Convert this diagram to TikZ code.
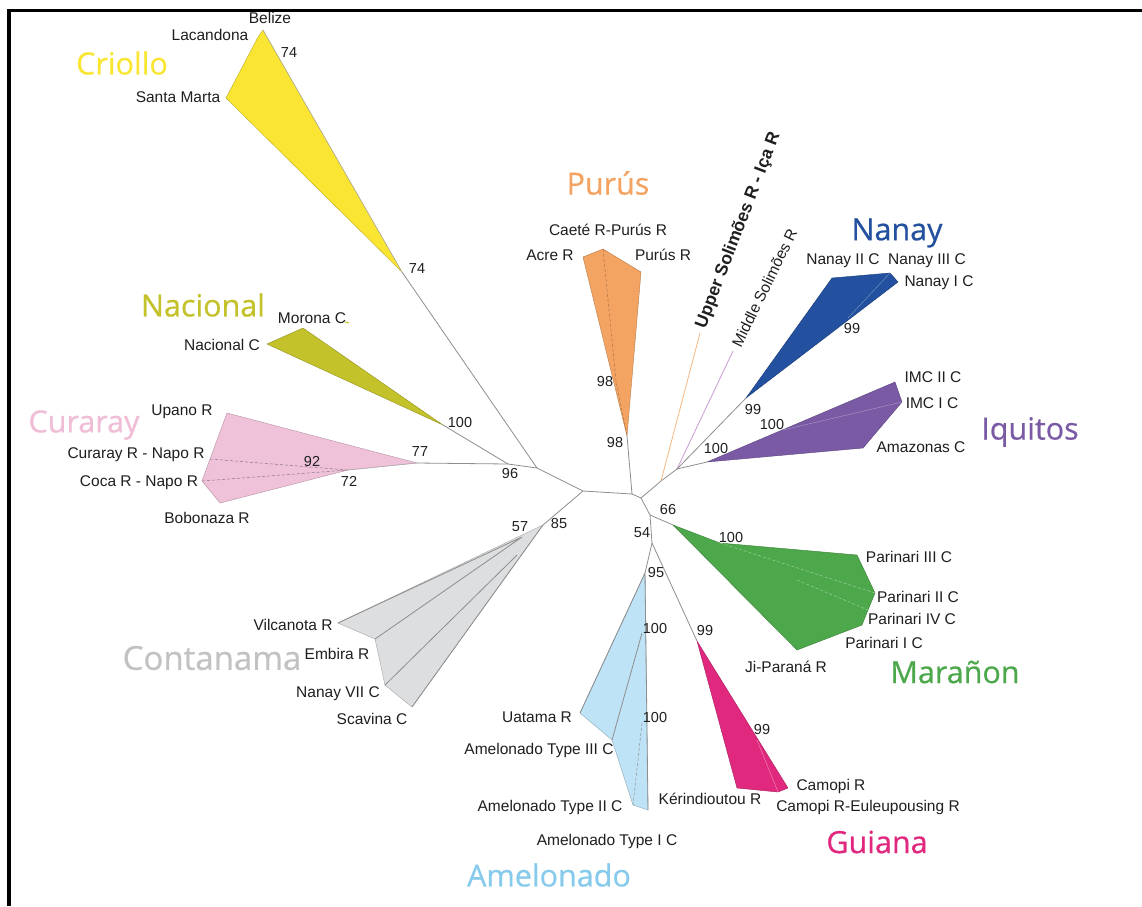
\documentclass[tikz,border=0pt]{standalone}
\usepackage{fontspec}
\setmainfont{Liberation Sans}
\newfontfamily\cladefont[FakeBold=0.6]{Open Sans}
\newfontfamily\labfont{Liberation Sans}
\definecolor{treegray}{HTML}{8E8E8E}
\definecolor{crioY}{HTML}{FAE632}
\definecolor{nacO}{HTML}{C3C22B}
\definecolor{curP}{HTML}{EFC2DA}
\definecolor{curL}{HTML}{F0BDD6}
\definecolor{conG}{HTML}{DDDEDF}
\definecolor{conL}{HTML}{C2C2C2}
\definecolor{ameB}{HTML}{BEE2F6}
\definecolor{ameL}{HTML}{86CBEB}
\definecolor{guiM}{HTML}{E0287E}
\definecolor{marG}{HTML}{4CA84A}
\definecolor{iquP}{HTML}{7A5AA5}
\definecolor{nanB}{HTML}{23509F}
\definecolor{purO}{HTML}{F4A462}
\definecolor{msP}{HTML}{C99BD2}
\tikzset{
  lab/.style={font=\labfont\fontsize{15.5}{18}\selectfont, inner sep=0pt, text=black!88},
  bs/.style={font=\labfont\fontsize{14.5}{16}\selectfont, inner sep=0pt, text=black!88},
  clade/.style={font=\cladefont\fontsize{30.5}{34}\selectfont, inner sep=0pt},
  tree/.style={draw=treegray, line width=0.8pt},
  inner/.style={draw=treegray!70, line width=0.5pt},
  innerdash/.style={draw=treegray!70, line width=0.5pt, dashed, dash pattern=on 3pt off 2pt},
  clfill/.style={fill=#1, draw=#1!75!black, line width=0.4pt, line join=round}
}
\begin{document}
\begin{tikzpicture}[x=1pt,y=-1pt]
\useasboundingbox (0,0) rectangle (1142,906);
\fill[white] (0,0) rectangle (1142,906);
% frame
\draw[line width=3.5pt, line join=miter] (9,906) -- (9,10.5) -- (1142,10.5);

% ---------- tree nodes ----------
\coordinate (nCri) at (402,272);
\coordinate (nR) at (537,468);
\coordinate (n96) at (508,464);
\coordinate (nNac) at (443,425);
\coordinate (nCur) at (417,463);
\coordinate (nA) at (583,491);
\coordinate (n85) at (543,525);
\coordinate (nB) at (632,494);
\coordinate (nPur) at (627,436);
\coordinate (nC) at (641,498);
\coordinate (nUS) at (661,481);
\coordinate (nUStip) at (700,333);
\coordinate (nD) at (677,469);
\coordinate (nMStip) at (733,351);
\coordinate (nNan) at (746,398);
\coordinate (nIqu) at (707,462);
\coordinate (nF) at (650,515);
\coordinate (nMar) at (673,525);
\coordinate (nG) at (652,543);
\coordinate (nAme) at (645,573);
\coordinate (nGui) at (697,641);

% ---------- clades (filled) ----------
% Criollo
\fill[clfill=crioY] (nCri) -- (226,98) -- (258,37) -- (263,30) -- (279,58) -- cycle;
\draw[inner] (263,30) -- (279,58) -- (nCri);
% Nacional
\fill[clfill=nacO] (nNac) -- (267,344) -- (303,328) -- cycle;
\draw[nacO, line width=1pt] (345,322) -- (349,323);
% Curaray
\fill[clfill=curP] (nCur) -- (227,413) -- (210,459) -- (202,481) -- (220,503) -- (348,470) -- cycle;
\draw[innerdash, draw=curP!60!black] (210,459) -- (348,470) (202,481) -- (348,470);
\draw[inner] (348,470) -- (nCur);
% Purus
\fill[clfill=purO] (nPur) -- (583,257) -- (603,249) -- (641,272) -- cycle;
\draw[innerdash, draw=purO!70!black] (603,249) -- (616,381) -- (nPur);
% Nanay
\fill[clfill=nanB] (nNan) -- (832,278) -- (890,273) -- (898,282) -- cycle;
\draw[draw=nanB!60!white, line width=0.4pt] (848,318) -- (890,273);
% Iquitos
\fill[clfill=iquP] (nIqu) -- (895,382) -- (902,402) -- (863,448) -- cycle;
\draw[draw=iquP!60!white, line width=0.4pt] (783,430) -- (902,402);
% Maranon
\fill[clfill=marG] (nMar) -- (720,543) -- (857,555) -- (875,593) -- (868,610) -- (862,625) -- (797,650) -- cycle;
\draw[innerdash, draw=marG!55!white] (720,543) -- (875,593) (797,580) -- (868,610);
% Contanama
\fill[clfill=conG] (n85) -- (338,623) -- (375,639) -- (385,685) -- (412,707) -- cycle;
\draw[tree] (338,623) -- (522,537) (375,639) -- (522,537) (385,685) -- (517,555) (412,707) -- (n85);
% Amelonado
\fill[clfill=ameB] (nAme) -- (580,713) -- (612,740) -- (633,805) -- (648,810) -- cycle;
\draw[tree] (nAme) -- (580,713) (642,633) -- (612,740) (nAme) -- (648,810);
\draw[innerdash, draw=treegray] (642,723) -- (633,805);
% Guiana
\fill[clfill=guiM] (nGui) -- (737,788) -- (778,792) -- (788,788) -- cycle;
\draw[draw=guiM!50!white, line width=0.4pt] (757,740) -- (778,792);

% ---------- tree branches ----------
\draw[tree] (nCur) -- (n96);
\draw[tree] (nNac) -- (n96);
\draw[tree] (n96) -- (nR);
\draw[tree] (nCri) -- (nR);
\draw[tree] (nR) -- (nA);
\draw[tree] (nA) -- (n85);
\draw[tree] (nA) -- (nB);
\draw[tree] (nB) -- (nPur);
\draw[tree] (nB) -- (nC);
\draw[tree] (nC) -- (nUS) -- (nD);
\draw[draw=purO!80!white, line width=0.8pt] (nUS) -- (nUStip);
\draw[draw=msP, line width=0.8pt] (nD) -- (nMStip);
\draw[tree] (nD) -- (nNan);
\draw[tree] (nD) -- (nIqu);
\draw[tree] (nC) -- (nF);
\draw[tree] (nF) -- (nMar);
\draw[tree] (nF) -- (nG);
\draw[tree] (nG) -- (nAme);
\draw[tree] (nG) -- (nGui);

% ---------- clade names ----------
\node[clade, text=crioY] (tCriollo) at (122,63) {Criollo};
\node[clade, text=nacO] (tNacional) at (203,305) {Nacional};
\node[clade, text=curL] (tCuraray) at (84,425) {Curaray};
\node[clade, text=conL, font=\cladefont\fontsize{33}{36}\selectfont] (tContanama) at (212,658) {Contanama};
\node[clade, text=ameL] (tAmelonado) at (549,875) {Amelonado};
\node[clade, text=guiM] (tGuiana) at (877,842) {Guiana};
\node[clade, text=marG] (tMaranon) at (955,672) {Marañon};
\node[clade, text=iquP] (tIquitos) at (1030,432) {Iquitos};
\node[clade, text=nanB] (tNanay) at (897,233) {Nanay};
\node[clade, text=purO] (tPurus) at (608,183) {Purús};

% ---------- leaf labels ----------
\node[lab] (lBelize) at (270,18) {Belize};
\node[lab] (lLacandona) at (210,35) {Lacandona};
\node[lab] (lSantaMarta) at (178,97) {Santa Marta};
\node[lab] (lMorona) at (312,318) {Morona C};
\node[lab] (lNacionalC) at (222,345) {Nacional C};
\node[lab] (lUpano) at (182,412) {Upano R};
\node[lab] (lCurarayN) at (136,455) {Curaray R - Napo R};
\node[lab] (lCoca) at (139,483) {Coca R - Napo R};
\node[lab] (lBobonaza) at (207,518) {Bobonaza R};
\node[lab] (lCaete) at (608,230) {Caeté R-Purús R};
\node[lab] (lAcre) at (550,255) {Acre R};
\node[lab] (lPurusR) at (663,255) {Purús R};
\node[lab, rotate=69, anchor=west, font=\labfont\bfseries\fontsize{17.5}{20}\selectfont] (lUpper) at (701,328) {Upper Solimões R - Iça R};
\node[lab, rotate=64, anchor=west] (lMiddle) at (736,346) {Middle Solimões R};
\node[lab] (lNanay2) at (843,261) {Nanay II C};
\node[lab] (lNanay3) at (927,261) {Nanay III C};
\node[lab] (lNanay1) at (939,283) {Nanay I C};
\node[lab] (lIMC2) at (933,377) {IMC II C};
\node[lab] (lIMC1) at (932,403) {IMC I C};
\node[lab] (lAmazonas) at (921,447) {Amazonas C};
\node[lab] (lPar3) at (909,557) {Parinari III C};
\node[lab] (lPar2) at (918,597) {Parinari II C};
\node[lab] (lPar4) at (912,619) {Parinari IV C};
\node[lab] (lPar1) at (884,643) {Parinari I C};
\node[lab] (lJi) at (786,667) {Ji-Paraná R};
\node[lab] (lVil) at (293,625) {Vilcanota R};
\node[lab] (lEmb) at (337,654) {Embira R};
\node[lab] (lNan7) at (338,694) {Nanay VII C};
\node[lab] (lSca) at (372,719) {Scavina C};
\node[lab] (lUat) at (537,717) {Uatama R};
\node[lab] (lAme3) at (539,750) {Amelonado Type III C};
\node[lab] (lAme2) at (550,807) {Amelonado Type II C};
\node[lab] (lAme1) at (607,841) {Amelonado Type I C};
\node[lab] (lKer) at (710,799) {Kérindioutou R};
\node[lab] (lCam) at (831,786) {Camopi R};
\node[lab] (lCamE) at (868,807) {Camopi R-Euleupousing R};

% ---------- bootstrap values ----------
\node[bs] (b74a) at (289,53) {74};
\node[bs] (b74b) at (417,269) {74};
\node[bs] (b100nac) at (460,422) {100};
\node[bs] (b77) at (420,452) {77};
\node[bs] (b92) at (312,461) {92};
\node[bs] (b72) at (349,481) {72};
\node[bs] (b96) at (510,473) {96};
\node[bs] (b57) at (520,527) {57};
\node[bs] (b85) at (559,523) {85};
\node[bs] (b98a) at (605,381) {98};
\node[bs] (b98b) at (615,442) {98};
\node[bs] (b99n) at (852,328) {99};
\node[bs] (b99d) at (753,409) {99};
\node[bs] (b100i) at (772,424) {100};
\node[bs] (b100j) at (716,448) {100};
\node[bs] (b66) at (668,509) {66};
\node[bs] (b54) at (642,533) {54};
\node[bs] (b100m) at (731,537) {100};
\node[bs] (b95) at (656,572) {95};
\node[bs] (b100a) at (655,628) {100};
\node[bs] (b99g) at (705,630) {99};
\node[bs] (b100b) at (655,717) {100};
\node[bs] (b99h) at (762,729) {99};
\end{tikzpicture}
\end{document}
